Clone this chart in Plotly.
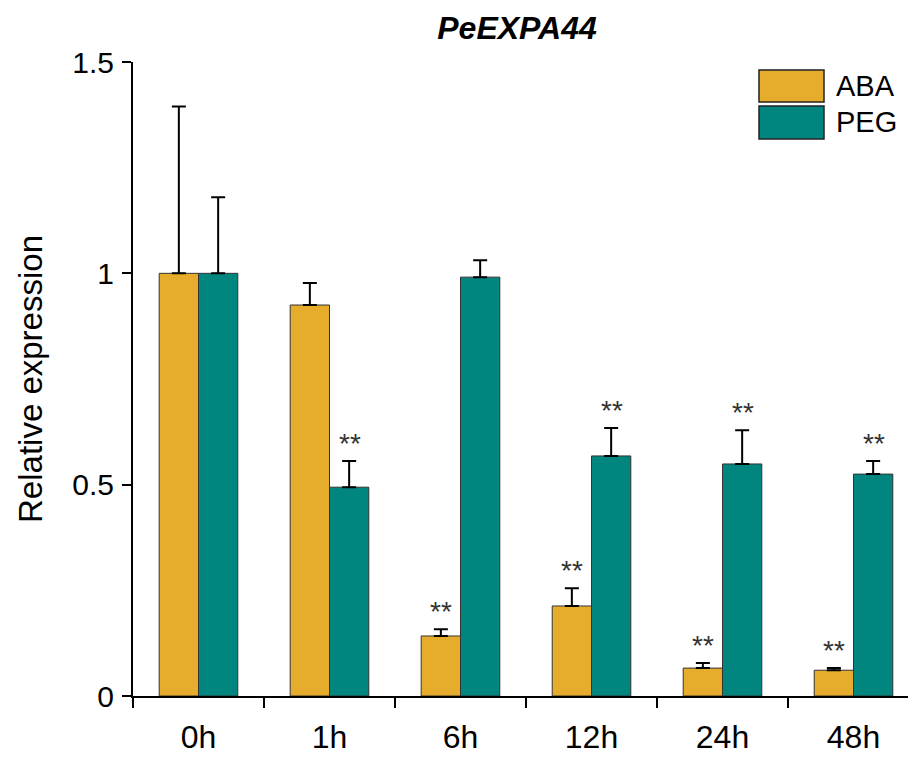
import plotly.graph_objects as go

categories = ["0h", "1h", "6h", "12h", "24h", "48h"]
aba_values = [1.0, 0.925, 0.142, 0.213, 0.066, 0.061]
aba_err = [0.395, 0.052, 0.016, 0.042, 0.012, 0.005]
peg_values = [1.0, 0.494, 0.991, 0.568, 0.549, 0.525]
peg_err = [0.18, 0.062, 0.040, 0.066, 0.080, 0.031]
aba_sig = ["", "", "**", "**", "**", "**"]
peg_sig = ["", "**", "", "**", "**", "**"]
series_names = ["ABA", "PEG"]

ABA_COLOR = "#E6AC2C"
PEG_COLOR = "#00857F"
FONT = "Liberation Sans, Arial, sans-serif"

# page body has an 8px margin; figure is sized so it fills the window exactly
W, H = 908, 750
ML, MR, MT, MB = 125, 0, 54, 62
PW, PH = W - ML - MR, H - MT - MB

fig = go.Figure()
for name, vals, errs, col in [(series_names[0], aba_values, aba_err, ABA_COLOR),
                              (series_names[1], peg_values, peg_err, PEG_COLOR)]:
    fig.add_trace(go.Bar(
        name=name, x=categories, y=vals, showlegend=False,
        marker=dict(color=col, line=dict(color="#333333", width=1)),
        error_y=dict(type="data", symmetric=False, array=errs,
                     arrayminus=[0] * len(errs), color="black", thickness=2, width=7),
    ))

annotations = []
for i, c in enumerate(categories):
    for sig, vals, errs, sh in [(aba_sig, aba_values, aba_err, -20), (peg_sig, peg_values, peg_err, 20)]:
        if sig[i]:
            annotations.append(dict(x=c, y=vals[i] + errs[i], xref="x", yref="y",
                                    text=sig[i], showarrow=False, xshift=sh, yshift=0,
                                    yanchor="bottom", font=dict(size=28, color="#333333", family=FONT)))

# legend drawn as boxes + labels (paper coords)
def px(fx):
    return (fx - ML) / PW

def py(fy):
    return (H - MB - fy) / PH

shapes = []
legend_rows = [(series_names[0], ABA_COLOR, 62, 94), (series_names[1], PEG_COLOR, 98, 131)]
for name, col, y0, y1 in legend_rows:
    shapes.append(dict(type="rect", xref="paper", yref="paper",
                       x0=px(751), x1=px(816), y0=py(y1), y1=py(y0),
                       fillcolor=col, line=dict(color="#222222", width=1.5)))
    annotations.append(dict(xref="paper", yref="paper", x=px(826), y=py((y0 + y1) / 2),
                            text=name, showarrow=False, xanchor="left", yanchor="middle",
                            font=dict(size=29, family=FONT, color="black")))

fig.update_layout(
    width=W, height=H,
    margin=dict(l=ML, r=MR, t=MT, b=MB, pad=0),
    paper_bgcolor="white", plot_bgcolor="white",
    barmode="group", bargap=0.4, bargroupgap=0,
    font=dict(family=FONT, color="black"),
    showlegend=False,
    title=dict(text="<b><i>PeEXPA44</i></b>", x=509 / W, xanchor="center",
               y=1 - 20 / H, yanchor="middle", font=dict(size=32, family=FONT)),
    annotations=annotations,
    shapes=shapes,
    xaxis=dict(range=[-0.5, 5.477], showline=True, linecolor="black", linewidth=2,
               ticks="outside", tickson="boundaries", ticklen=10, tickwidth=2, tickcolor="black",
               tickfont=dict(size=32), ticklabelstandoff=12, showgrid=False, zeroline=False),
    yaxis=dict(range=[0, 1.5], tickvals=[0, 0.5, 1, 1.5], ticktext=["0", "0.5", "1", "1.5"],
               showline=True, linecolor="black", linewidth=2,
               ticks="outside", ticklen=9, tickwidth=2, tickcolor="black",
               tickfont=dict(size=30), ticklabelstandoff=2, showgrid=False, zeroline=False,
               title=dict(text="Relative expression", font=dict(size=33), standoff=20)),
)

fig.write_html("out.html")
